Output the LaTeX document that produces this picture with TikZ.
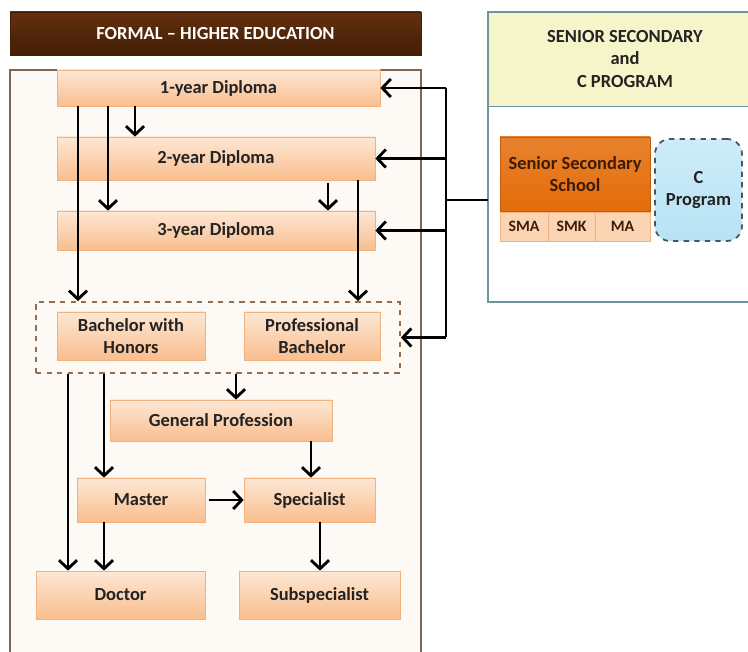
\documentclass[tikz,border=0pt]{standalone}
\usepackage{fontspec}
\setmainfont{Carlito}
\usetikzlibrary{arrows.meta,shapes}
\definecolor{darkbrown}{RGB}{66, 30, 6}
\definecolor{lightbrown}{RGB}{100, 48, 14}
\definecolor{boxtop}{RGB}{253, 231, 212}
\definecolor{boxbottom}{RGB}{249, 190, 142}
\definecolor{boxborder}{RGB}{240, 178, 128}
\definecolor{cream}{RGB}{253, 249, 244}
\definecolor{framebrown}{RGB}{120, 104, 92}
\definecolor{dashbrown}{RGB}{150, 110, 75}
\definecolor{tealgray}{RGB}{110, 150, 155}
\definecolor{paleyellow}{RGB}{246, 244, 201}
\definecolor{darkorange}{RGB}{228, 108, 10}
\definecolor{orangetext}{RGB}{60, 28, 6}
\definecolor{cellfill}{RGB}{251, 212, 180}
\definecolor{paleblue}{RGB}{184, 227, 245}
\definecolor{slate}{RGB}{75, 85, 95}
\definecolor{textgray}{RGB}{35, 35, 35}
\tikzstyle{stepbox}=[draw=boxborder,top color=boxtop,bottom color=boxbottom,text centered,text=textgray,font=\bfseries,inner sep=0pt]
\tikzstyle{orientedarc}=[-{Straight Barb[length=1.7mm,width=3.6mm,line width=1.6pt]},line width=1.6pt]
\tikzstyle{bus}=[line width=1.6pt]
\tikzstyle{cell}=[draw=boxborder,fill=cellfill,font=\bfseries\small,text=orangetext,minimum height=0.58cm,inner sep=0pt]

\begin{document}
\fontsize{10.5}{12.6}\selectfont
\begin{tikzpicture}

\useasboundingbox (0cm,0cm) rectangle (14.96cm,13.02cm);

% left block: higher education
\node[top color=lightbrown,bottom color=darkbrown,draw=darkbrown,minimum width=8.22cm,minimum height=0.86cm,text=white,font=\bfseries] (TITLE) at (4.31cm,12.35cm) {FORMAL -- HIGHER EDUCATION};
\draw[framebrown,fill=cream,line width=0.8pt] (0.2cm,11.62cm) rectangle (8.42cm,-0.2cm);

\node[stepbox,minimum width=6.46cm,minimum height=0.72cm] (D1) at (4.37cm,11.26cm) {1-year Diploma};
\node[stepbox,minimum width=6.36cm,minimum height=0.86cm] (D2) at (4.32cm,9.85cm) {2-year Diploma};
\node[stepbox,minimum width=6.36cm,minimum height=0.78cm] (D3) at (4.32cm,8.41cm) {3-year Diploma};

\node[draw=dashbrown,dashed,line width=1pt,minimum width=7.28cm,minimum height=1.42cm] (BACH) at (4.36cm,6.27cm) {};
\node[stepbox,minimum width=2.96cm,minimum height=0.96cm,align=center] (BH) at (2.62cm,6.3cm) {Bachelor with\\Honors};
\node[stepbox,minimum width=2.72cm,minimum height=0.96cm,align=center] (PB) at (6.24cm,6.3cm) {Professional\\Bachelor};

\node[stepbox,minimum width=4.44cm,minimum height=0.82cm] (GP) at (4.42cm,4.61cm) {General Profession};
\node[stepbox,minimum width=2.56cm,minimum height=0.88cm] (MA) at (2.82cm,3.02cm) {Master};
\node[stepbox,minimum width=2.62cm,minimum height=0.88cm] (SP) at (6.19cm,3.02cm) {Specialist};
\node[stepbox,minimum width=3.38cm,minimum height=0.96cm] (DR) at (2.41cm,1.12cm) {Doctor};
\node[stepbox,minimum width=3.22cm,minimum height=0.96cm] (SS) at (6.39cm,1.12cm) {Subspecialist};

% right block: senior secondary
\draw[tealgray,fill=white,line width=0.8pt] (9.76cm,12.78cm) rectangle (15.24cm,6.98cm);
\node[fill=paleyellow,draw=tealgray,line width=0.8pt,minimum width=5.48cm,minimum height=1.88cm,anchor=north west,inner sep=0pt] (HEAD) at (9.76cm,12.78cm) {};
\node[align=center,font=\bfseries,text=textgray] (HEADTXT) at (12.5cm,11.84cm) {SENIOR SECONDARY\\and\\C PROGRAM};

\node[draw=darkorange!85!black,top color=darkorange!85,bottom color=darkorange,minimum width=3cm,minimum height=1.48cm,text=orangetext,font=\bfseries,align=center,inner sep=0pt] (SSC) at (11.5cm,9.54cm) {Senior Secondary\\School};
\node[cell,minimum width=0.96cm] (SMA) at (10.48cm,8.49cm) {SMA};
\node[cell,minimum width=0.94cm] (SMK) at (11.43cm,8.49cm) {SMK};
\node[cell,minimum width=1.1cm] (MAC) at (12.45cm,8.49cm) {MA};
\node[draw=slate,dashed,line width=1pt,rounded corners=0.3cm,top color=paleblue!70,bottom color=paleblue,minimum width=1.74cm,minimum height=2.04cm,font=\bfseries,text=textgray,align=center] (CP) at (13.97cm,9.22cm) {C\\Program};

% columns of the arrows
\coordinate (C1) at (1.56cm,0cm);
\coordinate (C2) at (2.16cm,0cm);
\coordinate (C3) at (2.70cm,0cm);
\coordinate (C4) at (7.16cm,0cm);
\coordinate (C5) at (6.56cm,0cm);
\coordinate (C6) at (1.36cm,0cm);
\coordinate (C7) at (2.08cm,0cm);
\coordinate (C8) at (4.72cm,0cm);
\coordinate (C9) at (6.22cm,0cm);
\coordinate (C10) at (6.40cm,0cm);
\coordinate (BUS) at (8.92cm,9.02cm);

\draw[orientedarc] (D1.south -| C1) -- (BACH.north -| C1);
\draw[orientedarc] (D1.south -| C2) -- (D3.north -| C2);
\draw[orientedarc] (D1.south -| C3) -- (D2.north -| C3);
\draw[orientedarc] (D2.south -| C4) -- (BACH.north -| C4);
\draw[orientedarc] ([yshift=-0.06cm]D2.south -| C5) -- (D3.north -| C5);
\draw[orientedarc] (BACH.south -| C6) -- (DR.north -| C6);
\draw[orientedarc] (BACH.south -| C7) -- (MA.north -| C7);
\draw[orientedarc] (BACH.south -| C8) -- (GP.north -| C8);
\draw[orientedarc] (GP.south -| C9) -- (SP.north -| C9);
\draw[orientedarc] ([xshift=0.08cm]MA.east) -- (SP.west);
\draw[orientedarc] (MA.south -| C7) -- (DR.north -| C7);
\draw[orientedarc] (SP.south -| C10) -- (SS.north -| C10);

\draw[bus] (BUS) -- (BUS -| HEAD.west);
\draw[bus] (BUS |- D1.east) -- (BUS |- BACH.east);
\draw[orientedarc] (BUS |- D1.east) -- (D1.east);
\draw[orientedarc] (BUS |- D2.east) -- (D2.east);
\draw[orientedarc] (BUS |- D3.east) -- (D3.east);
\draw[orientedarc] (BUS |- BACH.east) -- (BACH.east);

\end{tikzpicture}
\end{document}
